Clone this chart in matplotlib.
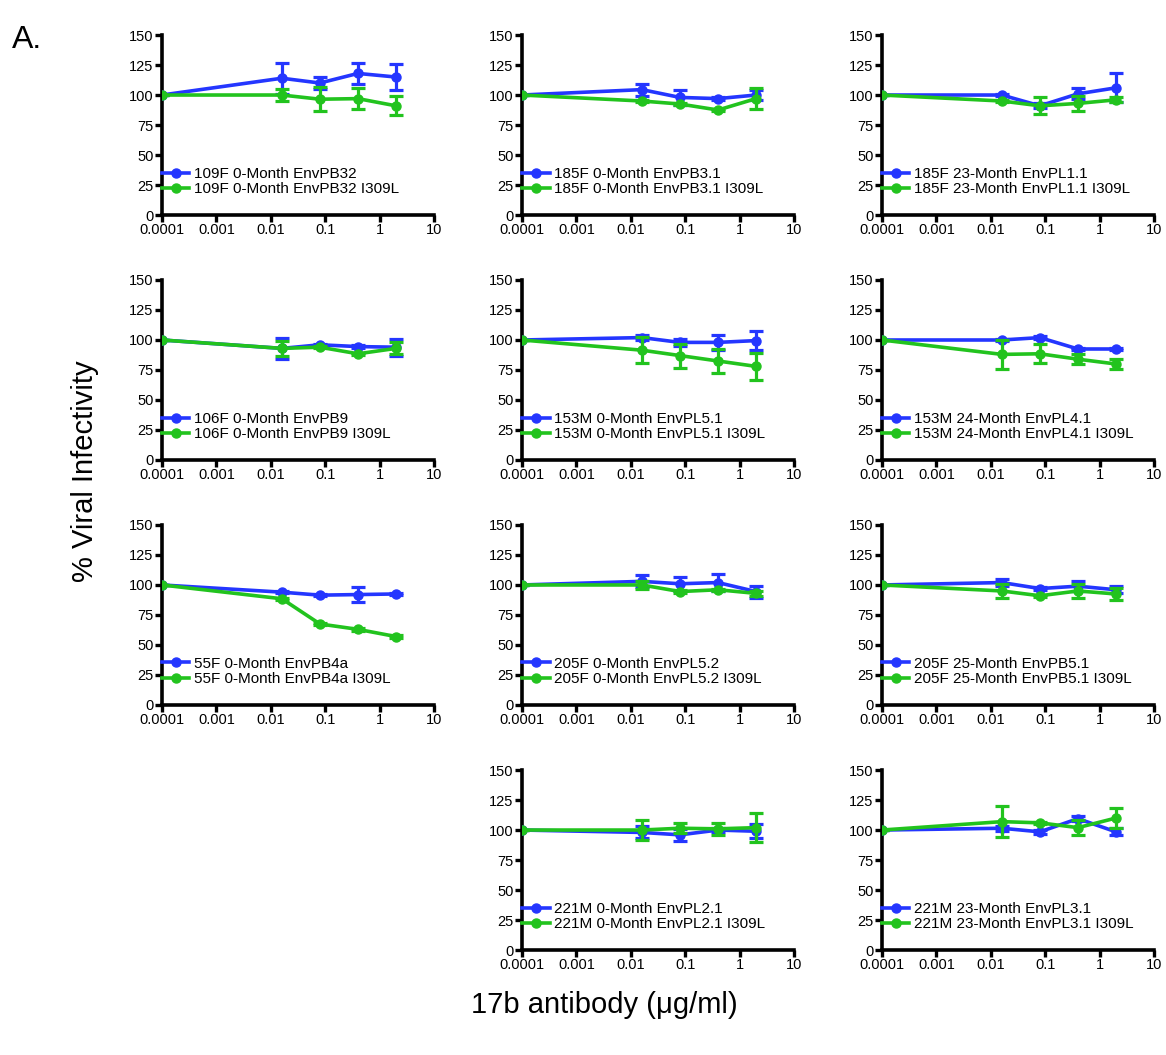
import matplotlib
matplotlib.use('Agg')
import matplotlib.pyplot as plt
import numpy as np

plt.rcParams['font.family'] = ['Liberation Sans', 'DejaVu Sans']

# antibody concentrations (ug/ml), 5-fold dilutions plus the no-antibody point
conc = [0.0001, 0.016, 0.08, 0.4, 2.0]

names = ['109F 0-Month EnvPB32', '185F 0-Month EnvPB3.1', '185F 23-Month EnvPL1.1',
         '106F 0-Month EnvPB9', '153M 0-Month EnvPL5.1', '153M 24-Month EnvPL4.1',
         '55F 0-Month EnvPB4a', '205F 0-Month EnvPL5.2', '205F 25-Month EnvPB5.1',
         '221M 0-Month EnvPL2.1', '221M 23-Month EnvPL3.1']

# grid slot (row, col) of each panel
slots = [(0, 0), (0, 1), (0, 2),
         (1, 0), (1, 1), (1, 2),
         (2, 0), (2, 1), (2, 2),
         (3, 1), (3, 2)]

wt_mean = [[100, 114, 110, 118, 115],
           [100, 104.5, 98, 97, 100],
           [100, 100, 91, 101, 106],
           [100, 93, 96, 94.5, 94],
           [100, 102, 98, 98, 99.5],
           [100, 100, 102, 92.5, 92.5],
           [100, 94, 91.5, 92, 92.5],
           [100, 103, 101, 102, 94.5],
           [100, 102, 97, 99, 96],
           [100, 98, 96, 100, 99],
           [100, 101.5, 98.5, 109.5, 98.5]]
wt_err = [[0, 13, 5, 9, 11],
          [0, 5, 6, 1, 4],
          [0, 1, 2, 4.5, 12],
          [0, 9, 1, 1, 7],
          [0, 2, 3, 6, 8],
          [0, 1, 1, 1, 1],
          [0, 1, 1, 6, 1],
          [0, 5, 6, 7, 5],
          [0, 3, 1.5, 4, 3],
          [0, 5, 5, 2, 6],
          [0, 2, 1.5, 2, 3]]
mut_mean = [[100, 100, 96.5, 97, 91],
            [100, 95, 92.5, 87.5, 97],
            [100, 95, 91, 93, 96],
            [100, 93, 94, 88.5, 93],
            [100, 91.5, 87, 82.5, 78],
            [100, 88, 88.5, 84, 80],
            [100, 88.5, 67.5, 63, 57],
            [100, 100, 94.5, 96, 93],
            [100, 95, 91, 95, 92.5],
            [100, 100, 101.5, 101, 102],
            [100, 107, 106, 102, 110]]
mut_err = [[0, 5, 10, 9, 8],
           [0, 1, 1, 1, 9],
           [0, 1, 7, 6, 2],
           [0, 6, 1, 1, 5],
           [0, 11, 10, 10, 11],
           [0, 12, 8, 4, 4],
           [0, 1, 1, 1, 1],
           [0, 3, 1, 1, 2],
           [0, 6, 1, 6, 5],
           [0, 8, 4, 5, 12],
           [0, 13, 1, 6, 8]]

yticks = [0, 25, 50, 75, 100, 125, 150]
xticks = [0.0001, 0.001, 0.01, 0.1, 1, 10]
xticklabels = ['0.0001', '0.001', '0.01', '0.1', '1', '10']

blue = '#2436ff'
green = '#22c31e'

fig = plt.figure(figsize=(11.66, 10.55), dpi=100)

lefts = [0.1389, 0.4477, 0.7564]
bottoms = [0.7962, 0.5640, 0.3318, 0.0995]
w, h = 0.2333, 0.1706

for i, name in enumerate(names):
    r, c = slots[i]
    ax = fig.add_axes([lefts[c], bottoms[r], w, h])
    ax.errorbar(conc, wt_mean[i], yerr=wt_err[i], color=blue, marker='o', ms=6.5,
                lw=2.6, elinewidth=2.3, capsize=5, capthick=2.3, label=name, zorder=3)
    ax.errorbar(conc, mut_mean[i], yerr=mut_err[i], color=green, marker='o', ms=6.5,
                lw=2.6, elinewidth=2.3, capsize=5, capthick=2.3, label=name + ' I309L', zorder=4)
    ax.set_xscale('log')
    ax.set_xlim(0.0001, 10)
    ax.set_ylim(0, 150)
    ax.set_xticks(xticks)
    ax.set_xticklabels(xticklabels)
    ax.xaxis.set_minor_locator(matplotlib.ticker.NullLocator())
    ax.set_yticks(yticks)
    for s in ['top', 'right']:
        ax.spines[s].set_visible(False)
    for s in ['left', 'bottom']:
        ax.spines[s].set_linewidth(2.6)
    ax.tick_params(width=2.4, length=5, labelsize=10.5, pad=1)
    ax.patch.set_alpha(0)
    handles, labels = ax.get_legend_handles_labels()
    handles = [hd[0] for hd in handles]
    ax.legend(handles, labels, loc='lower left', bbox_to_anchor=(0.0, 0.105), frameon=False,
              fontsize=11, handlelength=1.8, handletextpad=0.3, labelspacing=0.08,
              borderaxespad=0, borderpad=0)

fig.text(0.010, 0.962, 'A.', fontsize=23, va='center', ha='left')
fig.text(0.073, 0.553, '% Viral Infectivity', fontsize=21, rotation=90, va='center', ha='center')
fig.text(0.518, 0.047, '17b antibody (\u03bcg/ml)', fontsize=21, va='center', ha='center')

fig.savefig('out.png', dpi=100)
